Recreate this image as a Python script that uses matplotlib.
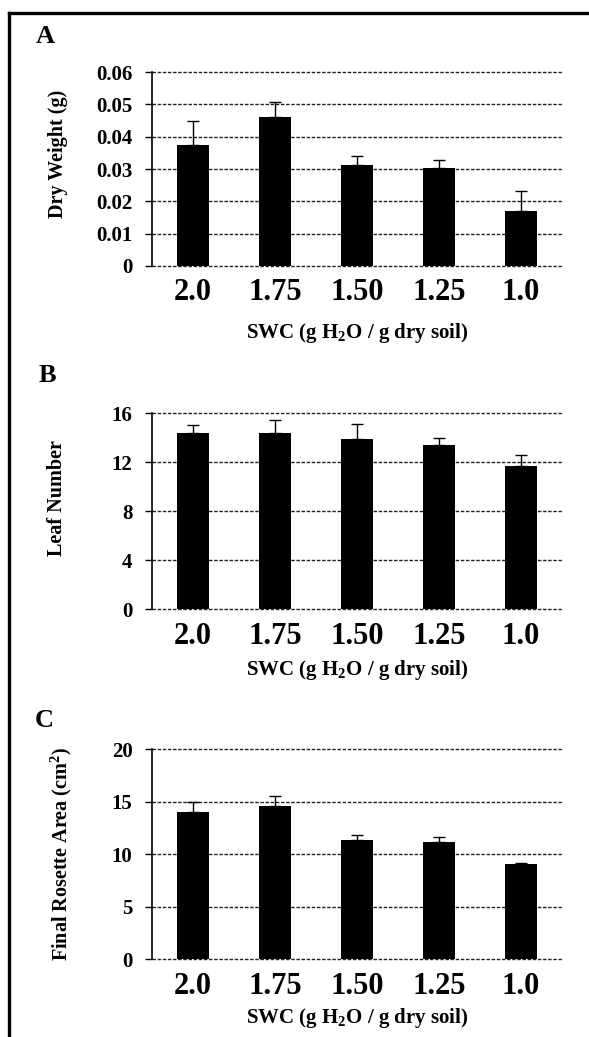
import matplotlib
matplotlib.use("Agg")
import matplotlib.pyplot as plt
from matplotlib.lines import Line2D

plt.rcParams['font.family'] = ['Liberation Serif', 'DejaVu Serif']
plt.rcParams['font.weight'] = 'bold'
plt.rcParams['mathtext.fontset'] = 'custom'
plt.rcParams['mathtext.rm'] = 'Liberation Serif:bold'
plt.rcParams['mathtext.default'] = 'rm'

swc_labels = ["2.0", "1.75", "1.50", "1.25", "1.0"]

dry_weight = [0.0375, 0.0462, 0.0314, 0.0302, 0.0171]
dry_weight_err = [0.0073, 0.0045, 0.0026, 0.0026, 0.0061]

leaf_number = [14.4, 14.4, 13.9, 13.4, 11.7]
leaf_number_err = [0.6, 1.0, 1.2, 0.6, 0.9]

rosette_area = [14.0, 14.57, 11.31, 11.12, 9.04]
rosette_area_err = [0.94, 0.91, 0.54, 0.51, 0.09]

fig = plt.figure(figsize=(5.89, 10.37), dpi=100)

panels = [
    ("A", dry_weight, dry_weight_err, [0, 0.01, 0.02, 0.03, 0.04, 0.05, 0.06],
     ["0", "0.01", "0.02", "0.03", "0.04", "0.05", "0.06"], "Dry Weight (g)",
     [0.258, 0.7435, 0.696, 0.187], 0.58, -0.229, -0.345, (36, 43)),
    ("B", leaf_number, leaf_number_err, [0, 4, 8, 12, 16],
     ["0", "4", "8", "12", "16"], "Leaf Number",
     [0.258, 0.4127, 0.696, 0.189], 0.566, -0.232, -0.311, (39, 382)),
    ("C", rosette_area, rosette_area_err, [0, 5, 10, 15, 20],
     ["0", "5", "10", "15", "20"], "Final Rosette Area (cm$^{2}$)",
     [0.258, 0.0752, 0.696, 0.2025], 0.5, -0.222, -0.281, (35, 727)),
]

xs = range(len(swc_labels))
for letter, vals, errs, yticks, ytlabels, ylab, rect, ylab_y, ylab_x, xlab_y, lpos in panels:
    ax = fig.add_axes(rect)
    ax.set_axisbelow(True)
    ax.bar(xs, vals, width=0.39, color='black', zorder=2)
    ax.errorbar(xs, vals, yerr=[[0] * len(errs), errs], fmt='none', ecolor='black',
                elinewidth=1, capsize=4, capthick=1, zorder=3)
    ax.set_xlim(-0.5, 4.5)
    ax.set_ylim(yticks[0], yticks[-1])
    ax.set_yticks(yticks)
    ax.set_yticklabels(ytlabels, fontsize=15, fontweight='bold')
    ax.set_xticks(list(xs))
    ax.set_xticklabels(swc_labels, fontsize=22, fontweight='bold')
    ax.tick_params(axis='x', length=0, pad=9)
    ax.tick_params(axis='y', direction='out', length=5, width=1, pad=9)
    ax.yaxis.grid(True, linestyle=(0, (2.5, 1.2)), linewidth=1, color='#222222', zorder=0)
    for gl in ax.get_ygridlines():
        gl.set_clip_on(False)
    for s in ['top', 'right', 'bottom']:
        ax.spines[s].set_visible(False)
    ax.spines['left'].set_linewidth(1.2)
    ax.set_ylabel(ylab, fontsize=14.5, fontweight='bold')
    ax.yaxis.set_label_coords(ylab_x, ylab_y)
    ax.yaxis.label.set_va('center')
    ax.set_xlabel(r"SWC (g H$_{2}$O / g dry soil)", fontsize=15, fontweight='bold')
    ax.xaxis.set_label_coords(0.5, xlab_y)
    ax.xaxis.label.set_va('center')
    fig.text(lpos[0] / 589, 1 - lpos[1] / 1037, letter, fontsize=19, fontweight='bold',
             ha='left', va='baseline')

# border around the figure (left and top edges)
fig.add_artist(Line2D([9 / 589, 9 / 589], [0, 1 - 13 / 1037], color='black', linewidth=2.4,
                      transform=fig.transFigure))
fig.add_artist(Line2D([9 / 589, 1], [1 - 13 / 1037, 1 - 13 / 1037], color='black', linewidth=2.4,
                      transform=fig.transFigure))

fig.savefig("out.png", dpi=100)
